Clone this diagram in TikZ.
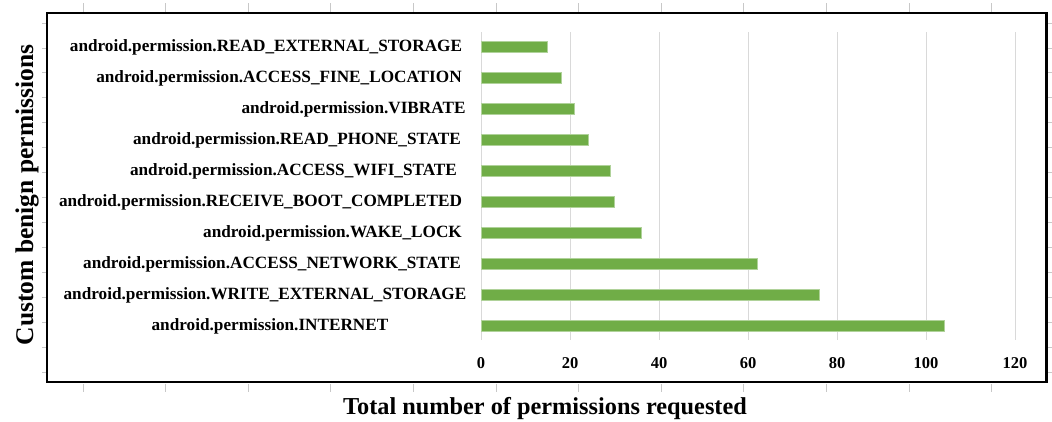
\documentclass[tikz,border=0pt]{standalone}
\usepackage{fontspec}
\setmainfont{Liberation Serif}
\definecolor{barg}{HTML}{70AD47}
\definecolor{gridc}{HTML}{D9D9D9}
\definecolor{otick}{HTML}{C8C8C8}
\begin{document}
\begin{tikzpicture}[x=1pt,y=-1pt,
  cat/.style={font=\fontsize{17.2}{19}\selectfont\bfseries, inner sep=0pt},
  ticklab/.style={font=\fontsize{16.5}{18}\selectfont\bfseries, inner sep=0pt},
  barbox/.style={fill=barg, draw=barg!55!white, line width=0.6pt},
  gridline/.style={draw=gridc, line width=1pt},
  outtick/.style={draw=otick, line width=0.8pt},
  axtitle/.style={font=\fontsize{24.3}{26}\selectfont\bfseries, inner sep=0pt}]
\useasboundingbox (0,0) rectangle (1052,421);
\fill[white] (0,0) rectangle (1052,421);
% outside ticks
\foreach \i in {0,...,11} {
  \draw[outtick] ({83+82.6*\i},3) -- ({83+82.6*\i},12);
  \draw[outtick] ({83+82.6*\i},384) -- ({83+82.6*\i},392);
}
\foreach \j in {0,...,14} {
  \draw[outtick] (42,{23+24.93*\j}) -- (46,{23+24.93*\j});
  \draw[outtick] (1048,{23+24.93*\j}) -- (1052,{23+24.93*\j});
}
% grid
\foreach \v in {0,20,...,120} {
  \draw[gridline] ({481+4.45*\v},32) -- ({481+4.45*\v},340);
  \node[ticklab] (t\v) at ({481+4.45*\v},363) {\v};
}
% bars and labels
\foreach \nm/\val/\yc/\cx in {
  READ\_EXTERNAL\_STORAGE/15/47/266,
  ACCESS\_FINE\_LOCATION/18/78/279,
  VIBRATE/21/109/353.5,
  READ\_PHONE\_STATE/24/140/297,
  ACCESS\_WIFI\_STATE/29/171/293.5,
  RECEIVE\_BOOT\_COMPLETED/30/202/260.5,
  WAKE\_LOCK/36/233/332.5,
  ACCESS\_NETWORK\_STATE/62/264/272,
  WRITE\_EXTERNAL\_STORAGE/76/295/265,
  INTERNET/104/326/270} {
  \node[cat] (l\yc) at (\cx,\yc) {android.permission.\nm};
  \draw[barbox] (481,{\yc-5.5}) rectangle ({481+4.45*\val},{\yc+5.5});
}
% frame
\draw[line width=2.6pt] (47,13) rectangle (1046.5,382);
% axis titles
\node[axtitle, rotate=90, font=\fontsize{25.5}{27}\selectfont\bfseries] (ytitle) at (27,195) {Custom benign permissions};
\node[axtitle, anchor=base] (xtitle) at (545,414) {Total number of permissions requested};
\end{tikzpicture}
\end{document}
